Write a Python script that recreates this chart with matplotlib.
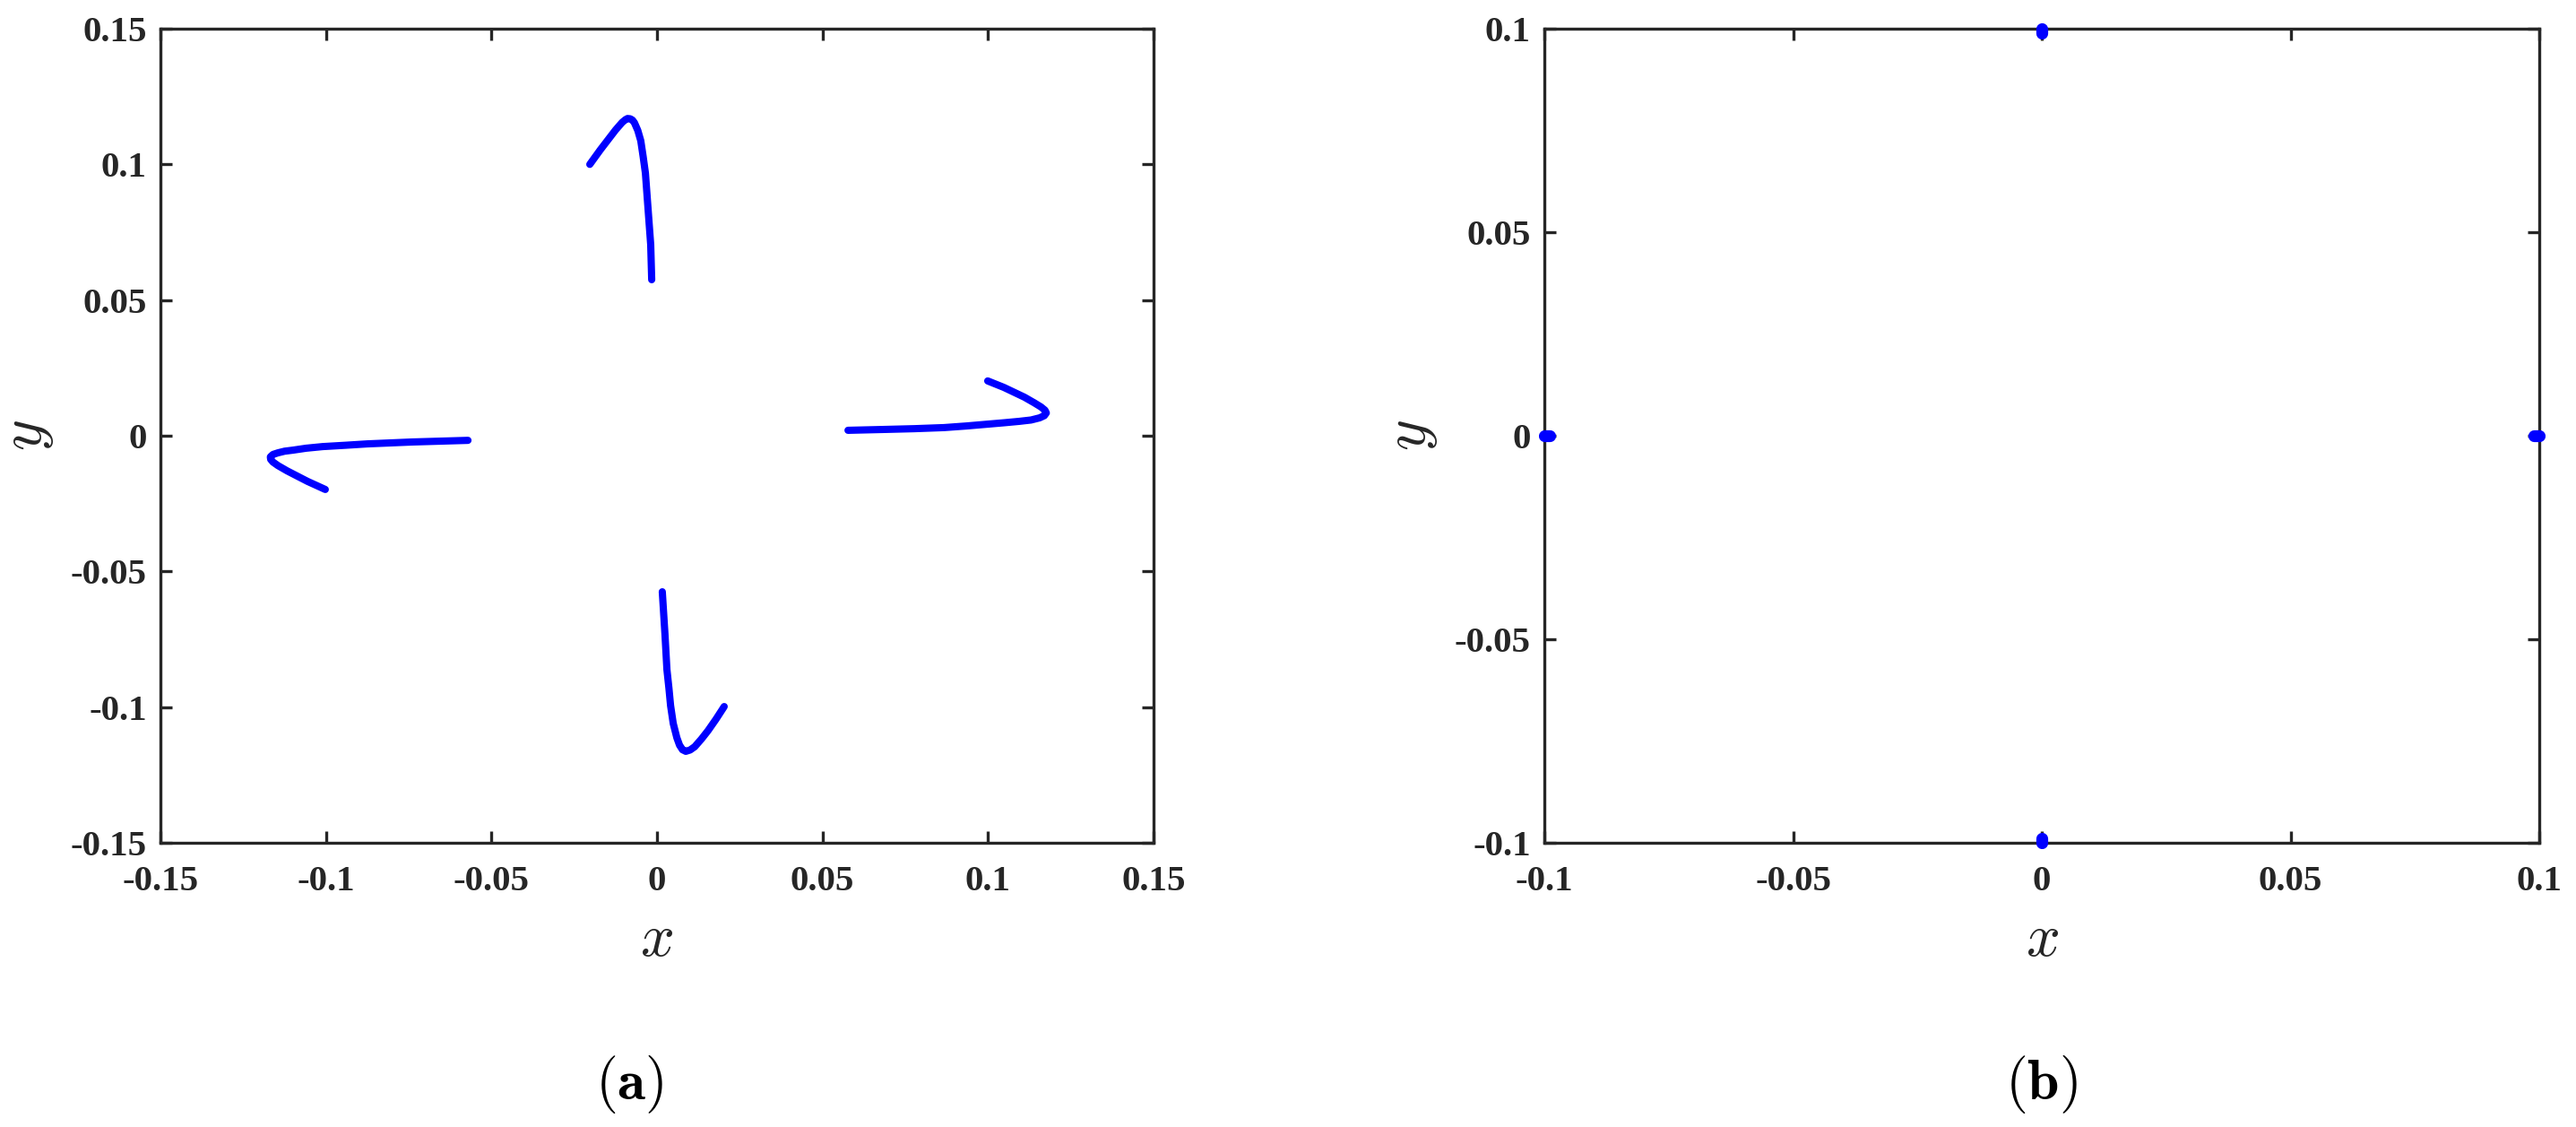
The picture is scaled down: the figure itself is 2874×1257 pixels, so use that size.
import numpy as np
import matplotlib
matplotlib.use('Agg')
import matplotlib.pyplot as plt

# (a) four trajectories
top_x = [-0.0203, -0.0171, -0.0125, -0.0105, -0.0095, -0.0089, -0.0081, -0.0074, -0.0068, -0.0058,
         -0.0049, -0.0042, -0.0035, -0.0027, -0.0019, -0.0016]
top_y = [0.1000, 0.1054, 0.1127, 0.1155, 0.1165, 0.1169, 0.1168, 0.1163, 0.1153, 0.1125,
         0.1087, 0.1030, 0.0968, 0.0836, 0.0704, 0.0575]

left_x = [-0.1002, -0.1056, -0.1118, -0.1145, -0.1160, -0.1167, -0.1168, -0.1160, -0.1145, -0.1125,
          -0.1099, -0.1060, -0.1010, -0.0940, -0.0875, -0.0739, -0.0571]
left_y = [-0.0198, -0.0168, -0.0129, -0.0110, -0.0097, -0.0087, -0.0078, -0.0069, -0.0063, -0.0057,
          -0.0053, -0.0046, -0.0040, -0.0035, -0.0030, -0.0023, -0.0017]

right_x = [0.0999, 0.1048, 0.1110, 0.1140, 0.1160, 0.1172, 0.1176, 0.1170, 0.1156, 0.1130,
           0.1094, 0.1050, 0.1002, 0.0935, 0.0867, 0.0777, 0.0680, 0.0577]
right_y = [0.0202, 0.0178, 0.0142, 0.0121, 0.0106, 0.0094, 0.0084, 0.0074, 0.0066, 0.0058,
           0.0053, 0.0048, 0.0043, 0.0036, 0.0030, 0.0026, 0.0023, 0.0020]

bot_x = [0.0016, 0.0024, 0.0030, 0.0036, 0.0041, 0.0049, 0.0060, 0.0068, 0.0077, 0.0087,
         0.0100, 0.0114, 0.0134, 0.0154, 0.0178, 0.0203]
bot_y = [-0.0575, -0.0730, -0.0862, -0.0930, -0.0994, -0.1060, -0.1113, -0.1140, -0.1157, -0.1163,
         -0.1158, -0.1146, -0.1118, -0.1087, -0.1045, -0.0998]

# (b) converged points (tiny segments)
pts_b = [
    ([-0.1000, -0.0990], [0.0, 0.0]),
    ([0.1000, 0.0990], [0.0, 0.0]),
    ([0.0, 0.0], [0.1000, 0.0990]),
    ([0.0, 0.0], [-0.1000, -0.0990]),
]

ticks_a = [-0.15, -0.1, -0.05, 0, 0.05, 0.1, 0.15]
ticklabels_a = ['-0.15', '-0.1', '-0.05', '0', '0.05', '0.1', '0.15']
ticks_b = [-0.1, -0.05, 0, 0.05, 0.1]
ticklabels_b = ['-0.1', '-0.05', '0', '0.05', '0.1']

plt.rcParams['font.family'] = ['Liberation Serif', 'DejaVu Serif']
plt.rcParams['mathtext.fontset'] = 'cm'

W, H = 2874, 1257
fig = plt.figure(figsize=(W / 100, H / 100), dpi=100)
ax1 = fig.add_axes([179 / W, 1 - 940 / H, 1108 / W, 908 / H])
ax2 = fig.add_axes([1723 / W, 1 - 940 / H, 1110 / W, 908 / H])

spine_col = '#262626'
blue = '#0000ff'

for xs, ys in [(top_x, top_y), (left_x, left_y), (right_x, right_y), (bot_x, bot_y)]:
    ax1.plot(xs, ys, color=blue, lw=5.8, solid_capstyle='round', solid_joinstyle='round')

for xs, ys in pts_b:
    ax2.plot(xs, ys, color=blue, lw=9.5, solid_capstyle='round', clip_on=False, zorder=5)

def style(ax, ticks, labels, lim):
    ax.set_xlim(lim)
    ax.set_ylim(lim)
    ax.set_xticks(ticks)
    ax.set_yticks(ticks)
    ax.set_xticklabels(labels)
    ax.set_yticklabels(labels)
    for s in ax.spines.values():
        s.set_color(spine_col)
        s.set_linewidth(2.4)
    ax.tick_params(axis='both', direction='in', length=9.5, width=2.4, color=spine_col,
                   top=True, right=True, labelsize=29.5, labelcolor=spine_col)
    ax.tick_params(axis='x', pad=18)
    ax.tick_params(axis='y', pad=11)
    for lab in ax.get_xticklabels() + ax.get_yticklabels():
        lab.set_fontweight('bold')
    ax.set_xlabel('$x$', fontsize=48, labelpad=12, color=spine_col)
    ax.set_ylabel('$y$', fontsize=48, labelpad=12, color=spine_col)

style(ax1, ticks_a, ticklabels_a, (-0.15, 0.15))
style(ax2, ticks_b, ticklabels_b, (-0.1, 0.1))

fig.text(702 / W, 1 - 1210 / H, r'$(\mathbf{a})$', fontsize=46, ha='center', va='center')
fig.text(2277 / W, 1 - 1210 / H, r'$(\mathbf{b})$', fontsize=46, ha='center', va='center')

fig.savefig('out.png', dpi=100)
